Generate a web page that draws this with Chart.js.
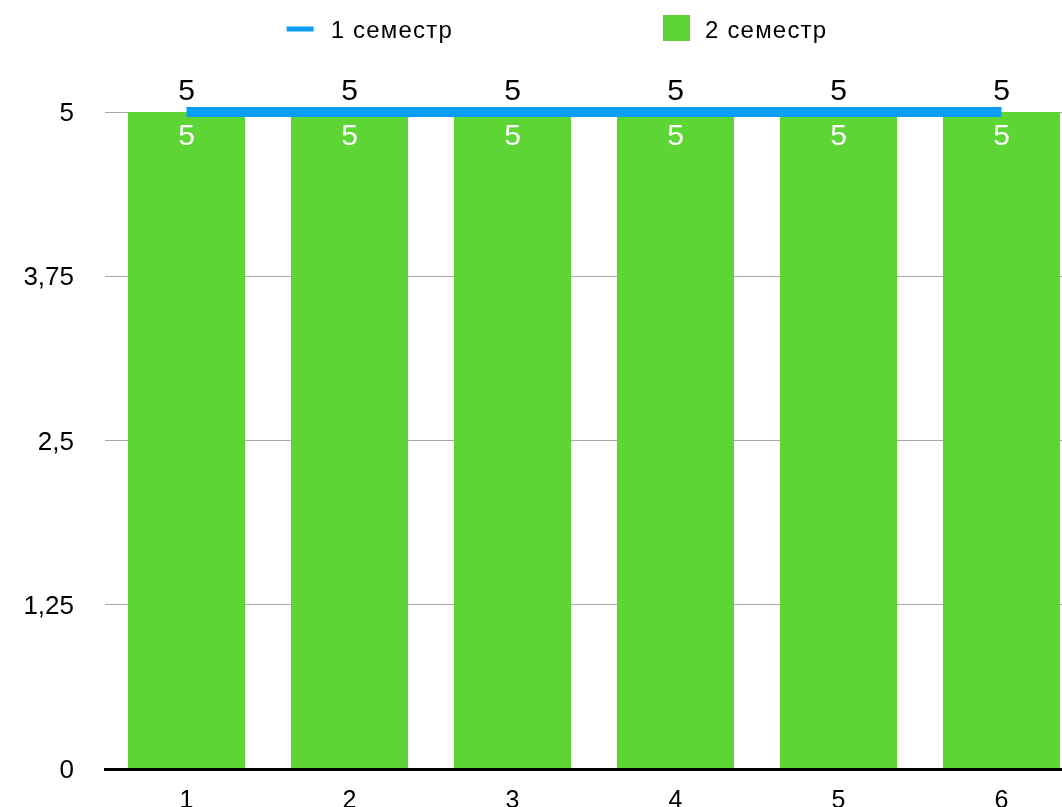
<!DOCTYPE html>
<html>
<head>
<meta charset="utf-8">
<script src="https://cdn.jsdelivr.net/npm/chart.js@4.4.1/dist/chart.umd.min.js"></script>
<style>
html,body{margin:0;padding:0;overflow:hidden;background:#fff;width:1062px;height:807px}
#wrap{position:relative;width:1114px;height:830px}
</style>
</head>
<body>
<div id="wrap"><canvas id="c" width="1114" height="830"></canvas></div>
<script>
const categories = ['1', '2', '3', '4', '5', '6'];
const semester1 = [5, 5, 5, 5, 5, 5];
const semester2 = [5, 5, 5, 5, 5, 5];
const seriesNames = ['1 семестр', '2 семестр'];
const yTicks = [0, 1.25, 2.5, 3.75, 5];
const yTickLabels = ['0', '1,25', '2,5', '3,75', '5'];

const FONT = "'Liberation Sans', Arial, Helvetica, sans-serif";
const BLUE = '#0a9ef6';
const GREEN = '#5dd535';
const GRID = '#a8a8a8';

const valueLabels = {
  id: 'valueLabels',
  afterDatasetsDraw(chart) {
    const c = chart.ctx;
    c.save();
    c.font = '30px ' + FONT;
    c.textAlign = 'center';
    c.textBaseline = 'middle';
    chart.data.datasets.forEach((ds, di) => {
      const meta = chart.getDatasetMeta(di);
      meta.data.forEach((el, i) => {
        const txt = String(ds.data[i]).replace('.', ',');
        if (ds.type === 'line') {
          c.fillStyle = '#000';
          c.fillText(txt, el.x, el.y - 20);
        } else {
          c.fillStyle = '#fff';
          c.fillText(txt, el.x, el.y + 25);
        }
      });
    });
    c.restore();
  }
};

const customLegend = {
  id: 'customLegend',
  afterDraw(chart) {
    const c = chart.ctx;
    c.save();
    c.font = '24px ' + FONT;
    try { c.letterSpacing = '1.2px'; } catch (e) {}
    c.textBaseline = 'middle';
    c.textAlign = 'left';
    const items = chart.data.datasets.map(ds => ({
      text: ds.label,
      isLine: ds.type === 'line',
      color: ds.type === 'line' ? ds.borderColor : ds.backgroundColor
    }));
    const markerW = items.map(() => 27);
    const gap = items.map(it => it.isLine ? 17 : 15);
    const itemGap = 210;
    const widths = items.map((it, i) => markerW[i] + gap[i] + c.measureText(it.text).width);
    const total = widths.reduce((a, b) => a + b, 0) + itemGap * (items.length - 1);
    let x = chart.width / 2 - total / 2;
    const yc = 29;
    items.forEach((it, i) => {
      c.fillStyle = it.color;
      if (it.isLine) {
        c.fillRect(x, yc - 2.5, markerW[i], 5);
      } else {
        c.fillRect(x, yc - 14, markerW[i], 26);
      }
      c.fillStyle = '#000';
      c.fillText(it.text, x + markerW[i] + gap[i], yc + 2);
      x += widths[i] + itemGap;
    });
    c.restore();
  }
};

new Chart(document.getElementById('c'), {
  type: 'bar',
  data: {
    labels: categories,
    datasets: [
      {
        type: 'line',
        label: seriesNames[0],
        data: semester1,
        borderColor: BLUE,
        backgroundColor: BLUE,
        borderWidth: 10,
        borderCapStyle: 'butt',
        pointRadius: 0,
        pointHoverRadius: 0,
        tension: 0,
        fill: false,
        clip: false
      },
      {
        type: 'bar',
        label: seriesNames[1],
        data: semester2,
        backgroundColor: GREEN,
        borderWidth: 0,
        barPercentage: 0.718,
        categoryPercentage: 1
      }
    ]
  },
  options: {
    responsive: false,
    animation: false,
    devicePixelRatio: 1,
    layout: { padding: { top: 112, right: 31, left: 0, bottom: 0 } },
    plugins: { legend: { display: false }, tooltip: { enabled: false } },
    scales: {
      x: {
        grid: { display: false, drawTicks: false },
        border: { color: '#000', width: 3, z: 1 },
        ticks: { color: '#000', font: { family: FONT, size: 25 }, padding: 17, maxRotation: 0 },
        afterFit(s) { s.height = 61; }
      },
      y: {
        min: 0,
        max: 5,
        afterBuildTicks(s) { s.ticks = yTicks.map(v => ({ value: v })); },
        ticks: {
          color: '#000',
          font: { family: FONT, size: 26 },
          padding: 31,
          labelOffset: 2,
          callback: (v, i) => yTickLabels[i]
        },
        grid: {
          color: ctx => (ctx.tick && ctx.tick.value === 0) ? 'rgba(0,0,0,0)' : GRID,
          lineWidth: 1,
          drawTicks: false
        },
        border: { display: false },
        afterFit(s) { s.width = 105; }
      }
    }
  },
  plugins: [valueLabels, customLegend]
});
</script>
</body>
</html>
